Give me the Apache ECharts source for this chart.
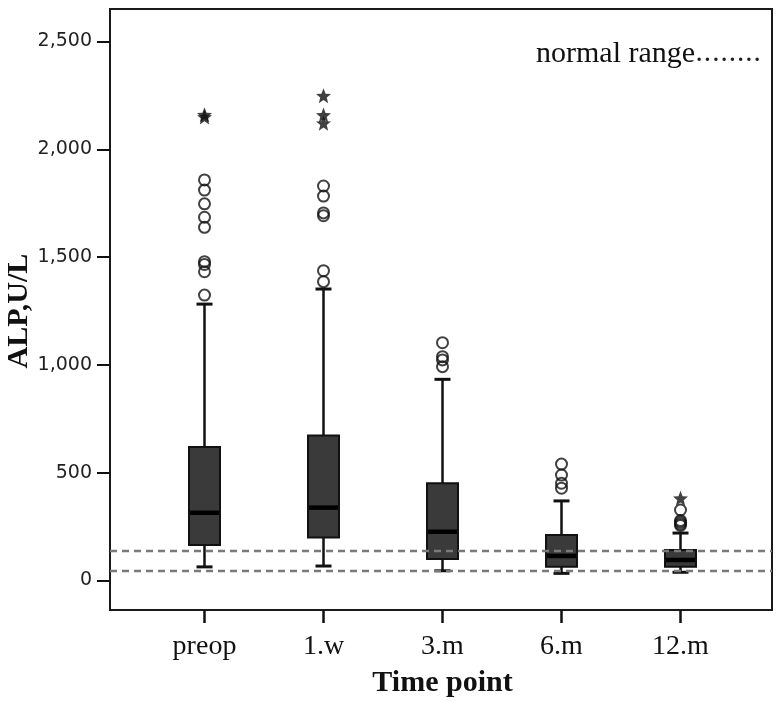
<!DOCTYPE html>
<html>
<head>
<meta charset="utf-8">
<script src="https://cdn.jsdelivr.net/npm/echarts@6/dist/echarts.min.js"></script>
<style>
html,body{margin:0;padding:0;background:#fff;}
#chart{width:780px;height:701px;}
</style>
</head>
<body>
<div id="chart"></div>
<script>
// ---- data ----
const categories = ['preop', '1.w', '3.m', '6.m', '12.m'];
const whiskerLow = [63, 67, 45, 33, 38];
const q1 = [165, 199, 100, 64, 64];
const median = [314, 338, 226, 114, 95];
const q3 = [619, 673, 451, 211, 141];
const whiskerHigh = [1282, 1352, 933, 369, 220];
const outlierCircles = [
  [1858, 1811, 1747, 1685, 1638, 1479, 1466, 1432, 1324],
  [1830, 1783, 1705, 1692, 1437, 1386],
  [1103, 1038, 1023, 992],
  [540, 489, 451, 428],
  [327, 278, 270, 262, 255]
];
const extremeStars = [
  [2160, 2150],
  [2249, 2159, 2121],
  [],
  [],
  [381]
];
const normalRange = [44, 137];
const yTickMin = 0, yTickMax = 2500, yTickStep = 500;
const frameYMin = -137, frameYMax = 2651;

// ---- build library data ----
const boxData = categories.map((c, i) => [i, whiskerLow[i], q1[i], median[i], q3[i], whiskerHigh[i]]);
const circleData = [];
outlierCircles.forEach((arr, i) => arr.forEach(v => circleData.push([i, v])));
const starData = [];
extremeStars.forEach((arr, i) => arr.forEach(v => starData.push([i, v])));

const STAR = 'path://M0,-10 L2.6,-3.4 L9.5,-3.1 L4.1,1.3 L5.9,8.1 L0,4.2 L-5.9,8.1 L-4.1,1.3 L-9.5,-3.1 L-2.6,-3.4 Z';

function renderBox(params, api) {
  const i = api.value(0);
  const lo = api.coord([i, api.value(1)]);
  const b = api.coord([i, api.value(2)]);
  const m = api.coord([i, api.value(3)]);
  const t = api.coord([i, api.value(4)]);
  const hi = api.coord([i, api.value(5)]);
  const x = lo[0];
  const bw = 31, cw = 16;
  const ink = '#111';
  return {
    type: 'group',
    children: [
      {type: 'line', shape: {x1: x, y1: hi[1], x2: x, y2: t[1]}, style: {stroke: ink, lineWidth: 2.5}},
      {type: 'line', shape: {x1: x, y1: b[1], x2: x, y2: lo[1]}, style: {stroke: ink, lineWidth: 2.5}},
      {type: 'line', shape: {x1: x - cw / 2, y1: hi[1], x2: x + cw / 2, y2: hi[1]}, style: {stroke: ink, lineWidth: 3}},
      {type: 'line', shape: {x1: x - cw / 2, y1: lo[1], x2: x + cw / 2, y2: lo[1]}, style: {stroke: ink, lineWidth: 3}},
      {type: 'rect', shape: {x: x - bw / 2, y: t[1], width: bw, height: b[1] - t[1]}, style: {fill: '#3a3a3a', stroke: ink, lineWidth: 2}},
      {type: 'line', shape: {x1: x - bw / 2 + 1, y1: m[1], x2: x + bw / 2 - 1, y2: m[1]}, style: {stroke: '#000', lineWidth: 4.5}}
    ]
  };
}

const serif = '"Liberation Serif", "Times New Roman", serif';
const chart = echarts.init(document.getElementById('chart'), null, {renderer: 'canvas'});
chart.setOption({
  backgroundColor: '#fff',
  animation: false,
  title: {
    text: '{a|normal range}{b|........}',
    left: 536, top: 40, padding: 0,
    textStyle: {
      fontFamily: serif, fontSize: 30, fontWeight: 'normal', color: '#111', lineHeight: 29,
      rich: {
        a: {fontFamily: serif, fontSize: 30, color: '#111', lineHeight: 29},
        b: {fontFamily: '"DejaVu Serif", serif', fontSize: 26, color: '#222', lineHeight: 29}
      }
    }
  },
  grid: [
    // frame
    {left: 110, right: 8, top: 9, bottom: 91, show: true, borderColor: '#1a1a1a', borderWidth: 2,
     backgroundColor: 'transparent', containLabel: false, outerBoundsMode: 'none'},
    // y tick labels
    {left: 110, right: 8, top: 41.5, bottom: 120.5, containLabel: false, outerBoundsMode: 'none'},
    // series
    {left: 145, right: 40, top: 9, bottom: 91, containLabel: false, outerBoundsMode: 'none'}
  ],
  xAxis: [
    {gridIndex: 0, type: 'value', min: 0, max: 1, show: false},
    {gridIndex: 1, type: 'value', min: 0, max: 1, show: false},
    {
      gridIndex: 2, type: 'category', data: categories, boundaryGap: true, position: 'bottom',
      axisLine: {show: false, onZero: false},
      axisTick: {show: true, alignWithLabel: true, length: 13, lineStyle: {color: '#111', width: 2.5}},
      axisLabel: {interval: 0, margin: 23, fontFamily: serif, fontSize: 28, color: '#111'},
      name: 'Time point', nameLocation: 'middle', nameGap: 58,
      nameTextStyle: {fontFamily: serif, fontSize: 30, fontWeight: 'bold', color: '#111'},
      splitLine: {show: false}
    }
  ],
  yAxis: [
    {gridIndex: 0, type: 'value', min: frameYMin, max: frameYMax, show: false},
    {
      gridIndex: 1, type: 'value', min: yTickMin, max: yTickMax, interval: yTickStep, position: 'left',
      axisLine: {show: false, onZero: false},
      axisTick: {show: true, inside: false, length: 13, lineStyle: {color: '#111', width: 2}},
      axisLabel: {
        margin: 18, fontFamily: '"DejaVu Sans", sans-serif', fontSize: 19, color: '#222',
        formatter: v => String(v).replace(/\B(?=(\d{3})+(?!\d))/g, ',')
      },
      splitLine: {show: false},
      name: 'ALP,U/L', nameLocation: 'middle', nameRotate: 90, nameGap: 76, nameMoveOverlap: false,
      nameTextStyle: {fontFamily: serif, fontSize: 30, fontWeight: 'bold', color: '#111'}
    },
    {gridIndex: 2, type: 'value', min: frameYMin, max: frameYMax, show: false}
  ],
  series: [
    {
      type: 'custom', xAxisIndex: 2, yAxisIndex: 2, renderItem: renderBox,
      data: boxData, z: 2, silent: true,
      encode: {x: 0, y: [1, 2, 3, 4, 5]}
    },
    {
      type: 'scatter', xAxisIndex: 2, yAxisIndex: 2, data: circleData,
      symbol: 'circle', symbolSize: 11, z: 3, silent: true,
      itemStyle: {color: 'rgba(255,255,255,0)', borderColor: '#111', borderWidth: 2}
    },
    {
      type: 'scatter', xAxisIndex: 2, yAxisIndex: 2, data: starData,
      symbol: STAR, symbolSize: 15, z: 3, silent: true,
      itemStyle: {color: '#111'}
    },
    ...normalRange.map(v => ({
      type: 'line', xAxisIndex: 0, yAxisIndex: 0,
      data: [[0, v], [1, v]], symbol: 'none', silent: true, z: 5,
      lineStyle: {color: '#7a7a7a', width: 2.5, type: [7, 5]}
    }))
  ]
});
</script>
</body>
</html>
